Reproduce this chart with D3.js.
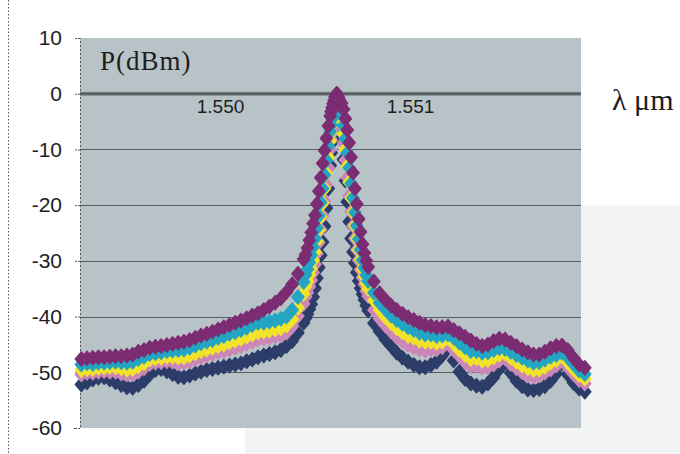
<!DOCTYPE html>
<html>
<head>
<meta charset="utf-8">
<script src="https://cdn.jsdelivr.net/npm/d3@7"></script>
<style>
  html, body { margin: 0; padding: 0; background: #ffffff; }
  svg { display: block; }
</style>
</head>
<body>
<svg id="chart" width="680" height="454"></svg>
<script>
// Wavelength samples (µm) — denser around the resonance
const wavelength = [
  1.54927,1.54930,1.54933,1.54936,1.54939,1.54942,1.54945,1.54948,1.54951,1.54954,
  1.54957,1.54960,1.54963,1.54966,1.54969,1.54972,1.54975,1.54978,1.54981,1.54984,
  1.54987,1.54990,1.54993,1.54996,1.54999,1.55002,1.55005,1.55008,1.55011,1.55014,
  1.55017,1.55020,1.55023,1.55026,1.55029,1.55032,1.55035,1.55038,1.55041,1.55044,
  1.55045,1.55046,1.55047,1.55048,1.55049,1.55050,1.55051,1.55052,1.55053,1.55054,
  1.55055,1.55056,1.55057,1.55058,
  1.550585,1.55059,1.550595,1.55060,1.550605,1.55061,1.550615,1.55062,1.550625,1.55063,
  1.55064,1.55065,1.55066,1.55067,1.55068,1.55069,1.55070,1.55071,1.55072,1.55073,
  1.55074,1.55075,1.55076,1.55077,1.55078,
  1.55081,1.55084,1.55087,1.55090,1.55093,1.55096,1.55099,1.55102,1.55105,1.55108,
  1.55111,1.55114,1.55117,1.55120,1.55123,1.55126,1.55129,1.55132,1.55135,1.55138,
  1.55141,1.55144,1.55147,1.55150,1.55153,1.55156,1.55159,1.55162,1.55165,1.55168,
  1.55171,1.55174,1.55177,1.55180,1.55183,1.55186,1.55189,1.55192
];

// Power spectra P(dBm), five traces
const trace1 = [
  -52.2,-51.8,-51.3,-51.0,-50.9,-51.3,-51.8,-52.3,-52.7,-52.8,
  -52.3,-51.5,-50.4,-49.6,-49.4,-49.8,-50.3,-50.8,-50.9,-50.6,
  -50.2,-49.9,-49.6,-49.4,-49.2,-49.0,-48.8,-48.6,-48.4,-48.0,
  -47.7,-47.3,-47.0,-46.7,-46.4,-46.0,-45.3,-44.4,-42.9,-41.1,
  -40.3,-39.6,-38.7,-37.8,-36.5,-34.9,-33.1,-31.2,-29.0,-26.6,
  -23.8,-20.5,-17.0,-12.9,
  -10.6,-8.7,-6.6,-4.8,-3.0,-1.3,0,-1.2,-2.9,-4.6,
  -8.0,-11.8,-15.6,-19.4,-23.0,-26.0,-28.4,-30.4,-32.1,-33.6,
  -34.9,-36.0,-37.0,-38.0,-38.9,
  -41.2,-42.7,-44.1,-45.3,-46.5,-47.4,-48.1,-48.7,-49.1,-49.1,
  -48.7,-48.1,-47.0,-45.7,-47.9,-49.9,-51.2,-52.0,-52.4,-52.6,
  -52.0,-50.9,-49.4,-48.3,-50.1,-51.5,-52.5,-53.1,-53.2,-53.0,
  -52.5,-51.5,-50.2,-48.4,-50.4,-51.9,-52.9,-53.5
];
const trace2 = [
  -50.4,-50.1,-50.1,-49.9,-49.8,-49.9,-49.9,-50.2,-50.4,-50.4,
  -49.9,-49.3,-48.5,-48.3,-48.2,-48.0,-48.1,-48.4,-48.3,-48.0,
  -47.6,-47.3,-47.0,-46.7,-46.4,-46.2,-45.9,-45.6,-45.3,-44.9,
  -44.5,-44.1,-44.0,-43.8,-43.6,-43.4,-42.9,-41.8,-39.9,-37.7,
  -36.5,-35.7,-34.6,-33.5,-32.1,-30.6,-28.7,-26.7,-24.4,-21.9,
  -19.3,-16.4,-13.3,-10.0,
  -8.2,-6.7,-5.0,-3.6,-2.2,-0.9,0,-0.9,-2.2,-3.5,
  -5.9,-8.8,-11.9,-15.1,-18.3,-21.2,-23.7,-26.0,-28.0,-29.9,
  -31.6,-33.0,-34.2,-35.4,-36.3,
  -38.8,-40.4,-41.6,-42.7,-43.7,-44.4,-45.1,-45.5,-45.9,-46.1,
  -45.9,-45.9,-45.5,-44.7,-46.0,-47.1,-48.2,-48.9,-48.9,-49.2,
  -49.1,-48.6,-47.9,-47.5,-48.5,-49.3,-50.0,-50.6,-50.8,-50.6,
  -50.1,-49.5,-48.8,-47.8,-49.1,-50.3,-51.4,-52.0
];
const trace3 = [
  -49.6,-49.4,-49.4,-49.2,-49.1,-49.0,-49.1,-49.3,-49.5,-49.4,
  -48.9,-48.4,-47.7,-47.5,-47.4,-47.2,-47.2,-47.3,-47.3,-47.0,
  -46.6,-46.2,-45.9,-45.6,-45.3,-45.0,-44.6,-44.3,-44.0,-43.6,
  -43.2,-42.8,-42.7,-42.5,-42.3,-42.1,-41.6,-40.5,-38.4,-35.9,
  -34.6,-33.7,-32.5,-31.4,-29.9,-28.4,-26.5,-24.4,-22.1,-19.6,
  -17.0,-14.3,-11.4,-8.5,
  -6.9,-5.6,-4.2,-3.0,-1.8,-0.7,0,-0.7,-1.8,-2.9,
  -4.8,-7.3,-10.0,-13.0,-15.9,-18.7,-21.3,-23.7,-26.0,-28.0,
  -29.8,-31.5,-32.8,-34.0,-35.0,
  -37.1,-38.8,-40.1,-41.1,-42.1,-42.8,-43.5,-43.8,-44.3,-44.5,
  -44.5,-44.7,-44.5,-43.9,-44.9,-46.0,-46.9,-47.6,-47.5,-47.9,
  -47.8,-47.3,-46.8,-46.6,-47.4,-48.1,-48.8,-49.3,-49.6,-49.5,
  -49.0,-48.3,-47.8,-47.1,-48.2,-49.4,-50.5,-51.1
];
const trace4 = [
  -48.6,-48.4,-48.5,-48.3,-48.3,-48.2,-48.1,-48.2,-48.3,-48.1,
  -47.6,-47.2,-46.7,-46.6,-46.4,-46.2,-46.1,-46.0,-45.9,-45.6,
  -45.2,-44.8,-44.5,-44.2,-43.8,-43.5,-43.1,-42.8,-42.4,-42.0,
  -41.5,-41.1,-41.1,-40.9,-40.7,-40.4,-40.0,-38.8,-36.5,-33.8,
  -32.5,-31.5,-30.3,-29.0,-27.5,-26.0,-24.1,-21.9,-19.5,-17.0,
  -14.6,-12.0,-9.4,-6.8,
  -5.6,-4.5,-3.3,-2.4,-1.4,-0.5,0,-0.6,-1.4,-2.3,
  -3.7,-5.7,-8.1,-10.6,-13.3,-16.1,-18.7,-21.3,-23.7,-26.1,
  -28.0,-29.9,-31.3,-32.6,-33.6,
  -35.7,-37.5,-38.7,-39.8,-40.6,-41.3,-41.9,-42.4,-42.9,-43.2,
  -43.2,-43.5,-43.4,-43.2,-43.8,-44.7,-45.5,-46.2,-46.2,-46.5,
  -46.4,-46.0,-45.7,-45.8,-46.3,-46.9,-47.4,-47.9,-48.3,-48.2,
  -47.7,-47.2,-46.9,-46.5,-47.3,-48.5,-49.7,-50.3
];
const trace5 = [
  -47.6,-47.5,-47.4,-47.3,-47.3,-47.2,-47.1,-47.1,-47.0,-46.8,
  -46.3,-46.0,-45.6,-45.4,-45.3,-45.1,-44.9,-44.7,-44.5,-44.2,
  -43.8,-43.4,-43.1,-42.7,-42.3,-41.9,-41.5,-41.1,-40.7,-40.3,
  -39.8,-39.4,-38.8,-38.2,-37.5,-36.7,-35.6,-34.2,-32.3,-29.7,
  -28.9,-27.7,-26.3,-24.9,-23.3,-21.8,-19.8,-17.5,-15.1,-12.5,
  -10.2,-8.0,-5.8,-4.0,
  -3.2,-2.5,-1.8,-1.2,-0.6,-0.2,0,-0.3,-0.7,-1.2,
  -1.7,-2.8,-4.5,-6.5,-8.8,-11.4,-14.2,-17.0,-19.8,-22.5,
  -24.8,-27.0,-28.6,-30.0,-31.1,
  -33.7,-35.8,-37.0,-38.0,-38.8,-39.5,-40.1,-40.6,-41.1,-41.5,
  -41.7,-41.9,-41.9,-41.8,-42.4,-43.0,-43.6,-44.3,-44.9,-45.3,
  -45.0,-44.4,-44.0,-44.1,-44.7,-45.3,-45.9,-46.4,-46.8,-46.8,
  -46.3,-45.7,-45.3,-45.2,-46.0,-47.4,-48.6,-49.2
];

const yTicks = [10, 0, -10, -20, -30, -40, -50, -60];
const xTicks = [1.550, 1.551];
const xTickLabels = ["1.550", "1.551"];
const seriesColors = ["#2d3d69", "#cb87b7", "#f1e32a", "#23a5c3", "#7c2c72"];

const W = 680, H = 454;
const plot = { left: 80, right: 581, top: 38, bottom: 428 };
const svg = d3.select("#chart");

const x = d3.scaleLinear().domain([1.549263, 1.5519]).range([plot.left, plot.right]);
const y = d3.scaleLinear().domain([-60, 10]).range([plot.bottom, plot.top]);

// paper tone around the lower right
svg.append("rect")
  .attr("x", 245).attr("y", 205).attr("width", W - 245).attr("height", H - 205)
  .attr("fill", "#f3f5f5");

// dotted page edge on the left
svg.append("line")
  .attr("x1", 8.5).attr("x2", 8.5).attr("y1", 0).attr("y2", H)
  .attr("stroke", "#555").attr("stroke-width", 1).attr("stroke-dasharray", "1.5,2");

// plot area
svg.append("rect")
  .attr("x", plot.left).attr("y", plot.top)
  .attr("width", plot.right - plot.left).attr("height", plot.bottom - plot.top)
  .attr("fill", "#b8c3c7");

// horizontal gridlines
svg.append("g")
  .selectAll("line")
  .data(yTicks.filter(v => v < 0 && v > -60))
  .join("line")
  .attr("x1", plot.left).attr("x2", plot.right)
  .attr("y1", d => Math.round(y(d)) + 0.5).attr("y2", d => Math.round(y(d)) + 0.5)
  .attr("stroke", "#566064").attr("stroke-width", 1.2);

// y axis
const yAxis = d3.axisLeft(y)
  .tickValues(yTicks)
  .tickSize(6)
  .tickPadding(12)
  .tickFormat(d => String(d));
const gy = svg.append("g")
  .attr("transform", `translate(${plot.left},0)`)
  .call(yAxis);
gy.select(".domain").attr("stroke", "#555").attr("stroke-dasharray", "2,2");
gy.selectAll(".tick line").attr("stroke", "#555").attr("stroke-dasharray", "2,1");
gy.selectAll(".tick text")
  .attr("font-family", "'Liberation Sans', Arial, sans-serif")
  .attr("font-size", 21).attr("fill", "#1e1e1e");

// x axis on the 0 dBm line
svg.append("line")
  .attr("x1", plot.left).attr("x2", plot.right)
  .attr("y1", y(0)).attr("y2", y(0))
  .attr("stroke", "#7a8488").attr("stroke-width", 4);
svg.append("line")
  .attr("x1", plot.left).attr("x2", plot.right)
  .attr("y1", y(0)).attr("y2", y(0))
  .attr("stroke", "#4b5457").attr("stroke-width", 1.4);

const xAxis = d3.axisBottom(x)
  .tickValues(xTicks)
  .tickSize(0)
  .tickPadding(6)
  .tickFormat((d, i) => xTickLabels[i]);
const gx = svg.append("g")
  .attr("transform", `translate(0,${y(0)})`)
  .call(xAxis);
gx.select(".domain").remove();
gx.selectAll(".tick text")
  .attr("font-family", "'Liberation Sans', Arial, sans-serif")
  .attr("font-size", 19).attr("fill", "#1e1e1e");

// diamond markers for each trace, first trace underneath
const diamond = "M0,-7L6,0L0,7L-6,0Z";
[trace1, trace2, trace3, trace4, trace5].forEach((vals, i) => {
  svg.append("g")
    .selectAll("path")
    .data(vals.map((v, j) => [wavelength[j], v]))
    .join("path")
    .attr("d", diamond)
    .attr("transform", d => `translate(${x(d[0])},${y(d[1])})`)
    .attr("fill", seriesColors[i])
    .attr("stroke", seriesColors[i])
    .attr("stroke-width", 1.5)
    .attr("stroke-linejoin", "round");
});

// axis titles
svg.append("text")
  .attr("x", 100).attr("y", 70)
  .attr("font-family", "'Liberation Serif', 'Times New Roman', serif")
  .attr("font-size", 27).attr("letter-spacing", 1).attr("fill", "#1e1e1e")
  .text("P(dBm)");
svg.append("text")
  .attr("x", 612).attr("y", 110)
  .attr("font-family", "'Liberation Serif', 'Times New Roman', serif")
  .attr("font-size", 30).attr("fill", "#1e1e1e")
  .text("λ μm");
</script>
</body>
</html>
